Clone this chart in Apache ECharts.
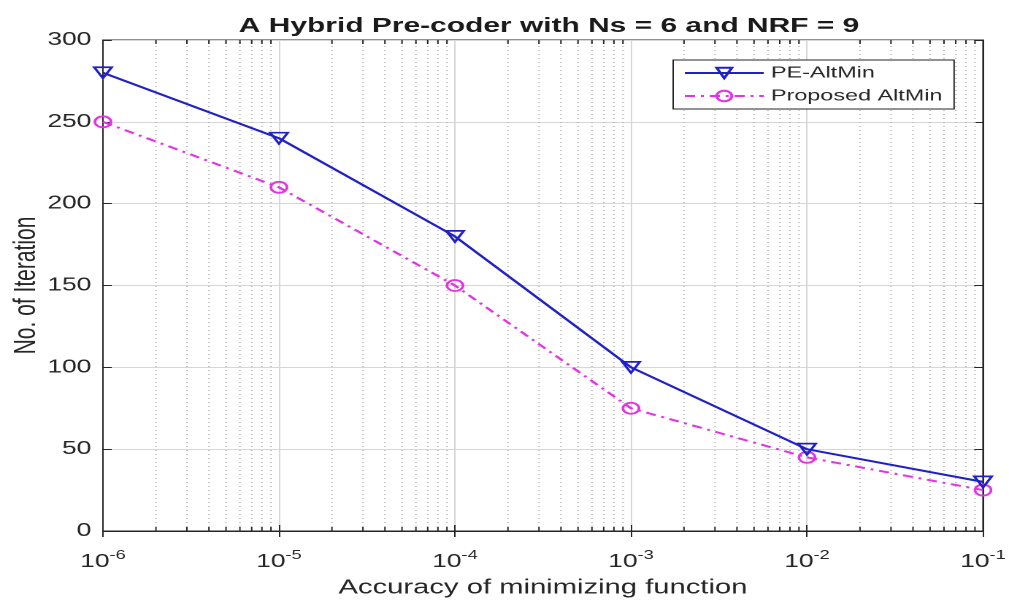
<!DOCTYPE html>
<html>
<head>
<meta charset="utf-8">
<script src="https://cdn.jsdelivr.net/npm/echarts@6/dist/echarts.min.js"></script>
<style>
  html, body { margin: 0; padding: 0; background: #fff; overflow: hidden; }
  /* The figure is laid out on a narrower canvas and widened to 1009px,
     giving the broad, horizontally stretched look of the exported plot. */
  #chart { width: 691px; height: 600px; transform: scaleX(1.4602); transform-origin: 0 0; }
</style>
</head>
<body>
<div id="chart"></div>
<script>
// Accuracy levels of the minimizing function (x, log scale)
const accuracy = [1e-6, 1e-5, 1e-4, 1e-3, 1e-2, 1e-1];
// Iteration counts for each algorithm
const peAltMin = [280, 240, 180, 100, 50, 30];
const proposedAltMin = [250, 210, 150, 75, 45, 25];
// Y tick labels
const yTicks = [0, 50, 100, 150, 200, 250, 300];

// Minor decade positions (2..9 x 10^k) for the dotted grid
const minorX = [];
for (let k = -6; k < -1; k++) {
  for (let m = 2; m <= 9; m++) minorX.push(m * Math.pow(10, k));
}

const FONT = '"Liberation Sans", Arial, Helvetica, sans-serif';
const TXT = '#262626';
const BLUE = '#2020c8';
const MAGENTA = '#e234e2';
const Y_MIN = yTicks[0], Y_MAX = yTicks[yTicks.length - 1];

const chart = echarts.init(document.getElementById('chart'), null, { renderer: 'canvas', devicePixelRatio: 2 });

function pairs(ys) { return accuracy.map((x, i) => [x, ys[i]]); }

chart.setOption({
  backgroundColor: '#ffffff',
  animation: false,
  title: {
    text: 'A Hybrid Pre-coder with Ns = 6 and NRF = 9',
    left: 371,
    textAlign: 'center',
    top: 11,
    textStyle: { fontFamily: FONT, fontSize: 20.5, fontWeight: 'bold', color: '#1a1a1a' }
  },
  grid: {
    left: 70.5, right: 17.8, top: 40, bottom: 69,
    outerBoundsMode: 'none',
    containLabel: false,
    show: true, borderColor: TXT, borderWidth: 1, backgroundColor: 'transparent'
  },
  legend: {
    orient: 'vertical',
    left: 461, top: 60,
    width: 193,
    padding: [5, 8, 5, 7],
    itemGap: 7,
    itemWidth: 54, itemHeight: 13,
    borderColor: TXT, borderWidth: 1,
    backgroundColor: '#ffffff',
    textStyle: { fontFamily: FONT, fontSize: 16, color: TXT },
    data: ['PE-AltMin', 'Proposed AltMin']
  },
  xAxis: [{
    type: 'log', logBase: 10,
    min: accuracy[0], max: accuracy[accuracy.length - 1],
    name: 'Accuracy of minimizing function',
    nameLocation: 'middle', nameGap: 47,
    nameMoveOverlap: false,
    nameTextStyle: { fontFamily: FONT, fontSize: 20, color: TXT },
    axisLine: { show: true, lineStyle: { color: TXT, width: 1 } },
    axisTick: { show: true, inside: true, length: 6, lineStyle: { color: TXT } },
    axisLabel: {
      margin: 18,
      color: TXT,
      formatter: function (v) {
        const e = Math.round(Math.log10(v));
        return '{b|10}{s|' + e + '}';
      },
      rich: {
        b: { fontFamily: FONT, fontSize: 18, color: TXT },
        s: { fontFamily: FONT, fontSize: 12.5, color: TXT, padding: [0, 0, 13, 0] }
      }
    },
    splitLine: { show: true, lineStyle: { color: '#d6d6d6', width: 1 } }
  }, {
    type: 'log', logBase: 10, position: 'top',
    min: accuracy[0], max: accuracy[accuracy.length - 1],
    axisLine: { show: true, lineStyle: { color: TXT } },
    axisTick: { show: true, inside: true, length: 6, lineStyle: { color: TXT } },
    axisLabel: { show: false },
    splitLine: { show: false }
  }],
  yAxis: [{
    type: 'value',
    min: Y_MIN, max: Y_MAX, interval: 50,
    name: 'No. of Iteration',
    nameLocation: 'middle', nameGap: 42,
    nameMoveOverlap: false,
    nameTextStyle: { fontFamily: FONT, fontSize: 21, color: TXT },
    axisLine: { show: true, lineStyle: { color: TXT } },
    axisTick: { show: true, inside: true, length: 6, lineStyle: { color: TXT } },
    axisLabel: { fontFamily: FONT, fontSize: 18, color: TXT, margin: 8 },
    splitLine: { show: true, lineStyle: { color: '#d6d6d6', width: 1 } }
  }, {
    type: 'value', position: 'right',
    min: Y_MIN, max: Y_MAX, interval: 50,
    axisLine: { show: true, lineStyle: { color: TXT } },
    axisTick: { show: true, inside: true, length: 6, lineStyle: { color: TXT } },
    axisLabel: { show: false },
    splitLine: { show: false }
  }],
  series: [{
    // dotted minor grid with small inward ticks on bottom and top edges
    name: 'minor-grid',
    type: 'custom',
    silent: true,
    z: 1,
    data: minorX.map(v => [v, Y_MIN]),
    encode: { x: 0, y: 1 },
    renderItem: function (params, api) {
      const x = api.value(0);
      const p0 = api.coord([x, Y_MIN]);
      const p1 = api.coord([x, Y_MAX]);
      return {
        type: 'group',
        children: [{
          type: 'line',
          shape: { x1: p0[0], y1: p0[1], x2: p1[0], y2: p1[1] },
          style: { stroke: '#b8b8b8', lineWidth: 1, lineDash: [1, 3] }
        }, {
          type: 'line',
          shape: { x1: p0[0], y1: p0[1], x2: p0[0], y2: p0[1] - 4 },
          style: { stroke: TXT, lineWidth: 1 }
        }, {
          type: 'line',
          shape: { x1: p1[0], y1: p1[1], x2: p1[0], y2: p1[1] + 4 },
          style: { stroke: TXT, lineWidth: 1 }
        }]
      };
    }
  }, {
    name: 'PE-AltMin',
    type: 'line',
    data: pairs(peAltMin),
    symbol: 'triangle',
    symbolRotate: 180,
    symbolSize: [12, 11],
    showAllSymbol: true,
    z: 4,
    lineStyle: { color: BLUE, width: 2 },
    itemStyle: { color: 'rgba(255,255,255,0)', borderColor: BLUE, borderWidth: 1.8 }
  }, {
    name: 'Proposed AltMin',
    type: 'line',
    data: pairs(proposedAltMin),
    symbol: 'circle',
    symbolSize: 11,
    showAllSymbol: true,
    z: 3,
    lineStyle: { color: MAGENTA, width: 2, type: [7, 4, 2, 4] },
    itemStyle: { color: 'rgba(255,255,255,0)', borderColor: MAGENTA, borderWidth: 1.8 }
  }]
});
</script>
</body>
</html>
